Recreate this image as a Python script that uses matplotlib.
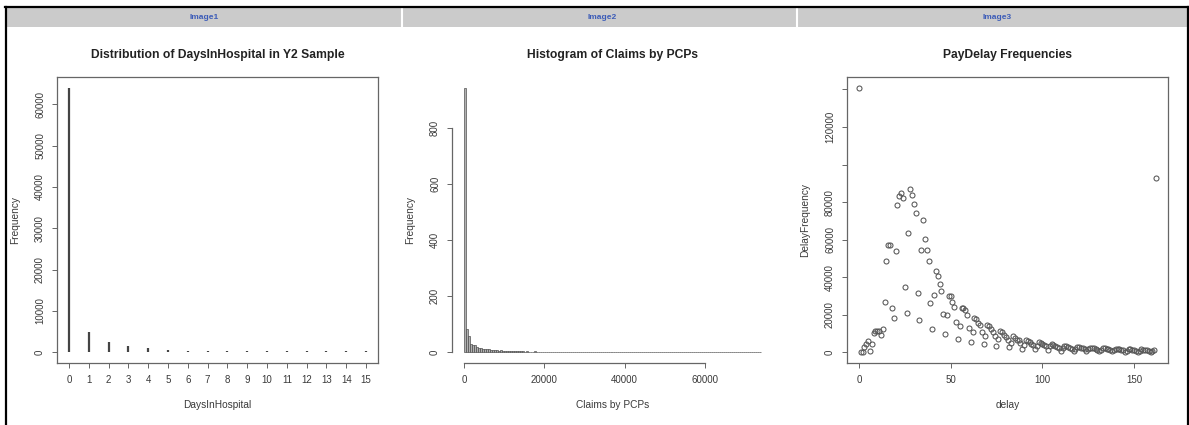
import matplotlib
matplotlib.use("Agg")
import matplotlib.pyplot as plt
import numpy as np
from matplotlib.lines import Line2D
from matplotlib.patches import Rectangle

plt.rcParams['font.family'] = ['Liberation Sans', 'DejaVu Sans']

# ---------------- data ----------------
# Panel 1: DaysInHospital counts
days = list(range(16))
days_freq = [64000, 5000, 2500, 1500, 1100, 700, 400, 350, 350, 330, 330, 330, 330, 330, 330, 350]

# Panel 2: histogram of claims by PCPs (bin width 500, 0 .. 74000)
claims_bin_width = 500
claims_counts = [
    945, 83, 57, 30, 28, 26, 18, 15, 14, 13, 12, 11, 12, 9,
    8, 7, 8, 6, 7, 6,
    5, 6, 5, 4, 5, 6, 5, 4, 5, 4,
    3, 4, 3, 3, 2, 4, 3, 2, 3, 2,
    2, 3, 2, 1, 2, 2, 1, 2, 1, 2, 1, 1, 2, 1, 3, 1, 1, 2, 1, 1,
    1, 1, 2, 1, 0, 1, 1, 2, 1, 1, 0, 1, 1, 0, 1, 1, 0, 1, 0, 1,
    0, 1, 0, 1, 0, 0, 1, 0, 0, 1, 0, 0, 0, 1, 0, 0, 2, 0, 0, 0,
    0, 0, 1, 0, 0, 0, 0, 0, 0, 1, 0, 0, 0, 0, 0, 0, 0, 1, 0, 0,
    0, 0, 0, 0, 0, 1, 0, 0, 0, 0, 0, 0, 0, 0, 0, 0, 0, 0, 1, 0, 0, 0, 0, 0, 0, 0, 0, 1,
]
claims_edges = [i * claims_bin_width for i in range(len(claims_counts) + 1)]

# Panel 3: PayDelay frequencies (delay 0 .. 162)
delay_freq = [
    141000, 0, 300, 3000, 4700, 6200, 1000, 4700, 10200, 11300,
    11600, 11300, 9300, 12700, 26700, 48500, 57200, 57200, 23500, 18200,
    53800, 78600, 83200, 85000, 82300, 34900, 21000, 63800, 87100, 83900,
    78800, 74200, 31500, 17200, 54500, 70600, 60500, 54300, 48500, 26200,
    12400, 30800, 43500, 40500, 36600, 32900, 20400, 9600, 20000, 29900,
    29900, 27000, 24100, 16400, 7000, 14200, 23800, 23700, 22500, 19800,
    12800, 5600, 10800, 18200, 17600, 15800, 14600, 11000, 4300, 8800,
    14400, 14000, 12200, 10800, 8500, 3200, 7200, 11500, 10800, 9400,
    8100, 6800, 2900, 5000, 8500, 7900, 6800, 6500, 5000, 2000,
    4100, 6500, 6100, 5400, 4700, 4100, 1800, 3600, 5400, 5000,
    4500, 4000, 3200, 1400, 3200, 4500, 4100, 3400, 2900, 2200,
    900, 2200, 3400, 3200, 2800, 2500, 2000, 800, 1900, 3000,
    2800, 2400, 2100, 1700, 700, 1600, 2600, 2400, 2100, 1800,
    1500, 600, 1400, 2300, 2100, 1800, 1600, 1300, 500, 1200,
    2000, 1900, 1600, 1400, 1100, 400, 1000, 1800, 1700, 1400,
    1200, 1000, 400, 900, 1600, 1500, 1300, 1100, 900, 300,
    800, 1400, 92600,
]
delay = list(range(len(delay_freq)))

panel_headers = ["Image1", "Image2", "Image3"]
titles = ["Distribution of DaysInHospital in Y2 Sample",
          "Histogram of Claims by PCPs",
          "PayDelay Frequencies"]
xlabels = ["DaysInHospital", "Claims by PCPs", "delay"]
ylabels = ["Frequency", "Frequency", "DelayFrequency"]

# ---------------- layout ----------------
W, H = 1189, 425
fig = plt.figure(figsize=(W / 100, H / 100), dpi=100)
fig.patch.set_facecolor('white')


def rect(l, t, r, b):
    return [l / W, 1 - b / H, (r - l) / W, (b - t) / H]


def fx(x):
    return x / W


def fy(y):
    return 1 - y / H


# outer frame and header bar
fig.add_artist(Rectangle((fx(6), fy(27)), fx(1187) - fx(6), fy(8) - fy(27),
                         transform=fig.transFigure, facecolor='#cbcbcb', edgecolor='none'))
for xs in (402, 797):
    fig.add_artist(Line2D([fx(xs), fx(xs)], [fy(27), fy(8)], transform=fig.transFigure,
                          color='white', lw=1.5))
fig.add_artist(Line2D([fx(5.5), fx(5.5)], [fy(7), 0], transform=fig.transFigure, color='black', lw=1.6))
fig.add_artist(Line2D([fx(1187.5), fx(1187.5)], [fy(7), 0], transform=fig.transFigure, color='black', lw=1.6))
fig.add_artist(Line2D([fx(5), fx(1188)], [fy(7), fy(7)], transform=fig.transFigure, color='black', lw=1.6))

for cx, txt in zip((204, 602, 997), panel_headers):
    fig.text(fx(cx), fy(17.5), txt, ha='center', va='center', fontsize=6,
             fontweight='bold', color='#3c5cb8')

FRAME = '#666666'
TXT = '#3a3a3a'
AX_W = 321  # axes width in px


def style(ax):
    ax.tick_params(direction='out', length=3.6, width=0.7, color=FRAME,
                   labelsize=7, labelcolor=TXT, pad=5)
    for lbl in ax.get_yticklabels():
        lbl.set_rotation(90)
        lbl.set_va('center')
    for s in ax.spines.values():
        s.set_color(FRAME)
        s.set_linewidth(0.9)


# ---------- Panel 1 ----------
ax1 = fig.add_axes(rect(57, 77, 378, 363))
ax1.vlines(days, 0, days_freq, color='#444444', lw=1.6)
ax1.set_xlim(-0.6, 15.6)
ax1.set_ylim(-2560, 66560)
ax1.set_xticks(days)
ax1.set_xticklabels([str(d) for d in days])
ax1.set_yticks(range(0, 60001, 10000))
ax1.set_yticklabels([str(v) for v in range(0, 60001, 10000)])

# ---------- Panel 2 ----------
ax2 = fig.add_axes(rect(452, 77, 773, 363))
ax2.hist(claims_edges[:-1], bins=claims_edges, weights=claims_counts,
         facecolor='#b0b0b0', edgecolor='#444444', linewidth=0.45)
ax2.set_xlim(-2960, 76960)
ax2.set_ylim(-37.8, 982.8)
ax2.set_xticks([0, 20000, 40000, 60000])
ax2.set_xticklabels(['0', '20000', '40000', '60000'])
ax2.set_yticks([0, 200, 400, 600, 800])
ax2.set_yticklabels(['0', '200', '400', '600', '800'])
ax2.spines['top'].set_visible(False)
ax2.spines['right'].set_visible(False)
ax2.spines['left'].set_bounds(0, 800)
ax2.spines['bottom'].set_bounds(0, 60000)

# ---------- Panel 3 ----------
ax3 = fig.add_axes(rect(847, 77, 1168, 363))
ax3.plot(delay, delay_freq, linestyle='none', marker='o', markersize=3.6,
         markerfacecolor='none', markeredgecolor='#555555', markeredgewidth=0.75)
ax3.set_xlim(-6.48, 168.48)
ax3.set_ylim(-5640, 146640)
ax3.set_xticks([0, 50, 100, 150])
ax3.set_xticklabels(['0', '50', '100', '150'])
ax3.set_yticks(range(0, 140001, 20000))
ax3.set_yticklabels(['0', '20000', '40000', '60000', '80000', '', '120000', ''])

for ax, t, xl, yl in zip((ax1, ax2, ax3), titles, xlabels, ylabels):
    style(ax)
    ax.set_title(t, fontsize=8.7, fontweight='bold', color='#222222', pad=14)
    ax.set_xlabel(xl, fontsize=7.3, color=TXT, labelpad=11)
    ax.set_ylabel(yl, fontsize=7.3, color=TXT)
    ax.yaxis.set_label_coords(-37 / AX_W, 0.5)

fig.savefig('out.png', dpi=100, facecolor='white')
